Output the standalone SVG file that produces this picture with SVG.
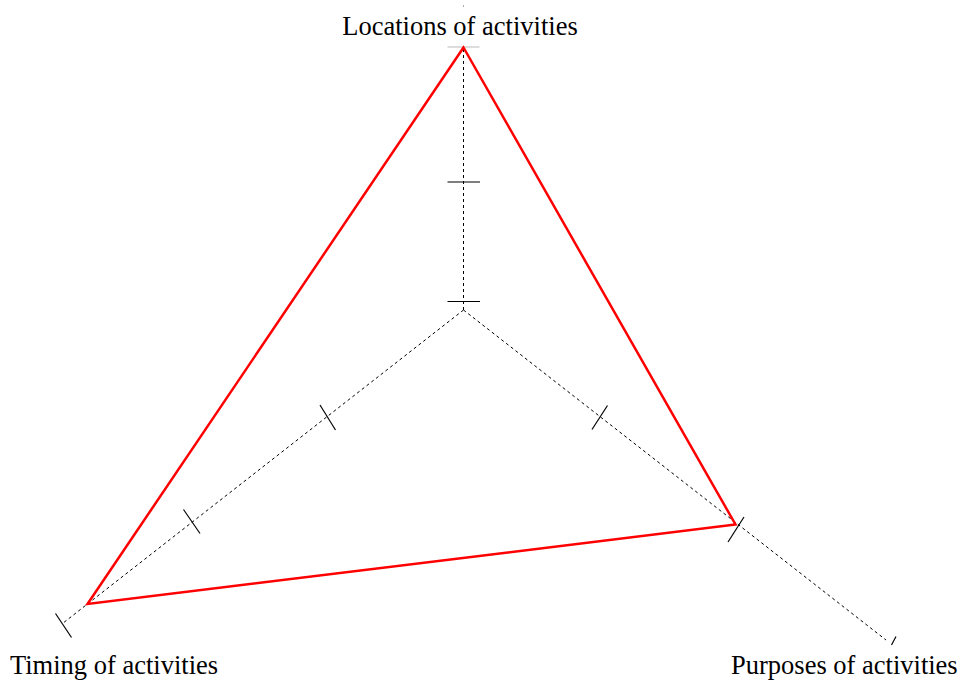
<svg xmlns="http://www.w3.org/2000/svg" width="961" height="681" viewBox="0 0 961 681">
<style>
.axis{stroke:#000;stroke-width:1;stroke-dasharray:3,3;fill:none}
.tick{stroke:#000;stroke-width:1.2;fill:none}
.tickg{stroke:#bbb;stroke-width:1;fill:none}
.lbl{font-family:"Liberation Serif","Times New Roman",serif;font-size:26.5px;fill:#000}
.poly{stroke:#f00;stroke-width:2.5;fill:none;stroke-linejoin:miter}
</style>
<rect width="961" height="681" fill="#fff"/>
<g id="connectors">
<line class="axis" x1="463.5" y1="310" x2="463.5" y2="47"/>
<line class="axis" x1="463.5" y1="310" x2="62.5" y2="623.5"/>
<line class="axis" x1="463.5" y1="310" x2="886" y2="640"/>
</g>
<g id="ticks">
<line class="tick" x1="447.5" y1="301.5" x2="480" y2="301.5"/>
<line class="tick" x1="447.5" y1="182" x2="480" y2="182"/>
<line class="tickg" x1="447.5" y1="47" x2="479.5" y2="47"/>
<rect x="463" y="5.5" width="1" height="1" fill="#555"/>
<line class="tick" x1="320" y1="405" x2="335.5" y2="430"/>
<line class="tick" x1="183.5" y1="509.5" x2="200" y2="533.5"/>
<line class="tick" x1="55.5" y1="613.5" x2="71.5" y2="637.5"/>
<line class="tick" x1="607.5" y1="405.5" x2="592" y2="429.5"/>
<line class="tick" x1="744" y1="517" x2="728" y2="542"/>
<line class="tick" x1="896" y1="636.5" x2="891.5" y2="645"/>
</g>
<g id="profile">
<polygon class="poly" points="463.5,47.5 87.5,604 735.5,524.5"/>
</g>
<g id="node-locations"><text class="lbl" x="460" y="35" text-anchor="middle">Locations of activities</text></g>
<g id="node-timing"><text class="lbl" x="10" y="674">Timing of activities</text></g>
<g id="node-purposes"><text class="lbl" x="731" y="674">Purposes of activities</text></g>
</svg>
